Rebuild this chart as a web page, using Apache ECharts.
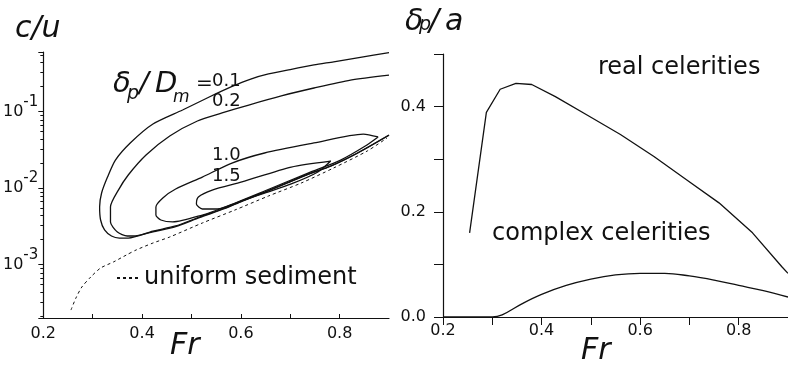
<!DOCTYPE html>
<html>
<head>
<meta charset="utf-8">
<script src="https://cdn.jsdelivr.net/npm/echarts@6/dist/echarts.min.js"></script>
<style>
  html, body { margin: 0; padding: 0; background: #fff; }
  #chart { width: 788px; height: 365px; }
</style>
</head>
<body>
<div id="chart"></div>
<script>
// left panel: contours of c/u against Fr, [Fr, c/u]
var contour01 = [[0.9, 0.59], [0.842, 0.512], [0.788, 0.447], [0.748, 0.406], [0.7, 0.354], [0.656, 0.31],
  [0.62, 0.266], [0.58, 0.21], [0.536, 0.155], [0.482, 0.1047], [0.422, 0.0687], [0.376, 0.0388], [0.346, 0.0232],
  [0.33, 0.0139], [0.318, 0.0086], [0.314, 0.00565], [0.316, 0.00382], [0.324, 0.00283], [0.338, 0.00236],
  [0.354, 0.00222], [0.372, 0.00222], [0.422, 0.00274], [0.468, 0.00319], [0.516, 0.00418], [0.568, 0.00548],
  [0.602, 0.00678], [0.648, 0.00887], [0.692, 0.0116], [0.736, 0.0152], [0.782, 0.0194], [0.836, 0.0287],
  [0.9, 0.0493]]
var contour02 = [[0.9, 0.3], [0.822, 0.258], [0.748, 0.203], [0.682, 0.16], [0.616, 0.1217], [0.562, 0.0957],
  [0.512, 0.0752], [0.456, 0.0479], [0.408, 0.027], [0.372, 0.0148], [0.352, 0.0094], [0.336, 0.00565],
  [0.336, 0.0036], [0.35, 0.00266], [0.37, 0.00236], [0.386, 0.00236], [0.422, 0.00268], [0.468, 0.00312],
  [0.516, 0.0041], [0.568, 0.0054], [0.602, 0.0067], [0.648, 0.0088], [0.692, 0.0115], [0.736, 0.0151],
  [0.782, 0.0193], [0.836, 0.0285], [0.9, 0.049]]
var contour10 = [[0.878, 0.0465], [0.848, 0.0508], [0.748, 0.0388], [0.648, 0.0287], [0.582, 0.0212],
  [0.522, 0.0139], [0.468, 0.0097], [0.442, 0.00742], [0.428, 0.00565], [0.428, 0.00444], [0.438, 0.00382],
  [0.462, 0.0036], [0.522, 0.00444], [0.568, 0.00565], [0.648, 0.00914], [0.736, 0.0157], [0.802, 0.0232],
  [0.852, 0.0354], [0.878, 0.0465]]
var contour15 = [[0.782, 0.0225], [0.702, 0.0188], [0.602, 0.012], [0.542, 0.0094], [0.514, 0.00764],
  [0.51, 0.00618], [0.522, 0.00532], [0.552, 0.00532], [0.602, 0.00678], [0.648, 0.0086], [0.702, 0.0113],
  [0.756, 0.0162], [0.782, 0.0225]]
var uniform = [[0.256, 0.000254], [0.266, 0.000365], [0.278, 0.000508], [0.296, 0.000687], [0.316, 0.000901],
  [0.342, 0.00108], [0.368, 0.00133], [0.388, 0.00155], [0.422, 0.00191], [0.456, 0.00229], [0.522, 0.00349],
  [0.588, 0.00516], [0.656, 0.00787], [0.722, 0.0116], [0.788, 0.0183], [0.856, 0.0305], [0.896, 0.0451]]

// right panel: delta_p / a against Fr
var realCel = [[0.254, 0.16], [0.288, 0.389], [0.316, 0.433], [0.348, 0.444], [0.38, 0.442], [0.428, 0.419],
  [0.494, 0.383], [0.56, 0.347], [0.628, 0.305], [0.694, 0.261], [0.76, 0.217], [0.828, 0.16], [0.888, 0.095],
  [0.9, 0.083]]
var complexCel = [[0.2, 0], [0.3, 0], [0.32, 0.004], [0.36, 0.025], [0.4, 0.043], [0.45, 0.06], [0.5, 0.072],
  [0.55, 0.08], [0.6, 0.083], [0.65, 0.083], [0.7, 0.078], [0.75, 0.07], [0.8, 0.06], [0.85, 0.05], [0.9, 0.038]]

var font = 'DejaVu Sans'
var ink = '#111'

var chart = echarts.init(document.getElementById('chart'))

function evenLabel (v) {
  return Math.round(v * 10) % 2 === 0 ? v.toFixed(1) : ''
}
function powLabel (v) {
  var e = Math.log10(v)
  if (Math.abs(e - Math.round(e)) > 1e-6) return ''
  return '{b|10}{s|' + Math.round(e) + '}'
}
function txt (x, y, s, size, italic) {
  return {
    type: 'text', x: x, y: y,
    style: { text: s, font: (italic ? 'italic ' : '') + size + 'px ' + font, fill: ink, textVerticalAlign: 'middle', verticalAlign: 'middle' }
  }
}
function line (data, axis, extra) {
  var s = {
    type: 'line', xAxisIndex: axis, yAxisIndex: axis, data: data, symbol: 'none', showSymbol: false,
    smooth: 0.25, lineStyle: { color: ink, width: 1.3 }, itemStyle: { color: ink }
  }
  return Object.assign(s, extra || {})
}

chart.setOption({
  animation: false,
  color: [ink],
  textStyle: { fontFamily: font },
  grid: [
    { left: 39, top: 52, width: 350, height: 266 },
    { left: 443, top: 54, width: 350, height: 263 }
  ],
  xAxis: [
    {
      gridIndex: 0, type: 'value', min: 0.2, max: 0.9, interval: 0.1,
      axisLine: { lineStyle: { color: ink, width: 1.2 } },
      axisTick: { inside: true, length: 4, lineStyle: { color: ink } },
      axisLabel: { formatter: evenLabel, margin: 8, fontSize: 16, color: ink, showMaxLabel: false },
      splitLine: { show: false }
    },
    {
      gridIndex: 1, type: 'value', min: 0.2, max: 0.9, interval: 0.1,
      axisLine: { lineStyle: { color: ink, width: 1.2 } },
      axisTick: { length: 8, lineStyle: { color: ink } },
      axisLabel: { formatter: evenLabel, margin: 6, fontSize: 16, color: ink, showMaxLabel: false },
      splitLine: { show: false }
    }
  ],
  yAxis: [
    {
      gridIndex: 0, type: 'log', logBase: 10, min: 0.0002, max: 0.6,
      axisLine: { show: true, lineStyle: { color: ink, width: 1.2 } },
      axisTick: { show: true, length: 5, lineStyle: { color: ink } },
      minorTick: { show: true, splitNumber: 8, length: 3, lineStyle: { color: ink } },
      axisLabel: {
        formatter: powLabel, margin: 5, color: ink,
        rich: {
          b: { fontSize: 16, lineHeight: 34, verticalAlign: 'middle', color: ink },
          s: { fontSize: 15, lineHeight: 34, verticalAlign: 'top', color: ink }
        }
      },
      splitLine: { show: false }, minorSplitLine: { show: false }
    },
    {
      gridIndex: 1, type: 'value', min: 0, max: 0.5, interval: 0.1,
      axisLine: { show: true, lineStyle: { color: ink, width: 1.2 } },
      axisTick: { show: true, length: 9, lineStyle: { color: ink } },
      axisLabel: { formatter: evenLabel, margin: 17, fontSize: 16, color: ink },
      splitLine: { show: false }
    }
  ],
  legend: {
    data: ['uniform sediment'], left: 116, top: 266, padding: 0, itemWidth: 22, itemHeight: 14,
    itemStyle: { opacity: 0 },
    textStyle: { fontSize: 24, color: ink, fontFamily: font }
  },
  graphic: [
    txt(15, 29, 'c/u', 30, true),
    txt(170, 346, 'Fr', 30, true),
    txt(581, 351, 'Fr', 30, true),
    txt(405, 22, 'δ', 30, true),
    txt(419, 25, 'p', 19, true),
    txt(429, 22, '/', 30, true),
    txt(445, 22, 'a', 30, true),
    txt(113, 84, 'δ', 29, true),
    txt(127, 94, 'p', 19, true),
    txt(139, 84, '/', 29, true),
    txt(155, 84, 'D', 29, true),
    txt(173, 98, 'm', 17, true),
    txt(196, 84, '=', 20, false),
    txt(212, 81, '0.1', 18, false),
    txt(212, 101, '0.2', 18, false),
    txt(212, 155, '1.0', 18, false),
    txt(212, 176, '1.5', 18, false),
    txt(598, 68, 'real celerities', 24, false),
    txt(492, 234, 'complex celerities', 24, false)
  ],
  series: [
    line(contour01, 0),
    line(contour02, 0),
    line(contour10, 0),
    line(contour15, 0),
    line(uniform, 0, { name: 'uniform sediment', lineStyle: { color: ink, width: 1, type: [3, 3] } }),
    line(realCel, 1, { smooth: false }),
    line(complexCel, 1, { smooth: 0.4 })
  ]
})
</script>
</body>
</html>
